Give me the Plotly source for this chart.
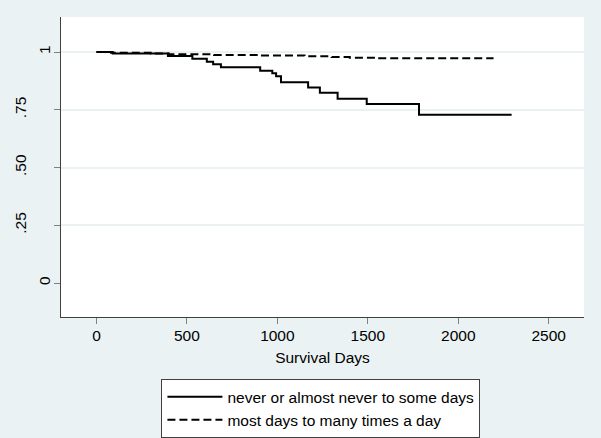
import plotly.graph_objects as go

# Kaplan-Meier step data
never_days = [0, 90, 395, 530, 610, 645, 688, 905, 972, 993, 1020, 1170, 1235, 1333, 1494, 1783, 2295]
never_surv = [1.0, 0.994, 0.983, 0.971, 0.958, 0.947, 0.934, 0.919, 0.908, 0.895, 0.870, 0.847, 0.824, 0.798, 0.775, 0.729, 0.729]

most_days = [0, 80, 300, 400, 650, 900, 1150, 1300, 1400, 1550, 2195]
most_surv = [1.0, 0.997, 0.994, 0.991, 0.988, 0.985, 0.982, 0.979, 0.976, 0.973, 0.973]

series_names = ["never or almost never to some days", "most days to many times a day"]

x_ticks = [0, 500, 1000, 1500, 2000, 2500]
y_ticks_inner = [0.25, 0.5, 0.75, 1]
y_text_inner = [".25", ".50", ".75", ""]
y_ticks_outer = [0, 1]
y_text_outer = ["0", "1"]

FONT = "Arial, Liberation Sans, sans-serif"
BG = "#EAF2F3"
FS = 15.5

fig = go.Figure()
fig.add_trace(go.Scatter(x=never_days, y=never_surv, mode="lines", line_shape="hv",
                         line=dict(color="#000000", width=2), name=series_names[0]))
fig.add_trace(go.Scatter(x=most_days, y=most_surv, mode="lines", line_shape="hv",
                         line=dict(color="#000000", width=2, dash="8px,4px"), name=series_names[1]))
# invisible trace to carry the second y axis
fig.add_trace(go.Scatter(x=[None], y=[None], yaxis="y2", showlegend=False, hoverinfo="skip"))

yrange = [-0.147, 1.152]
fig.update_layout(
    width=601, height=438,
    margin=dict(l=61, r=17, t=17, b=121, autoexpand=False),
    paper_bgcolor=BG, plot_bgcolor="#FFFFFF",
    font=dict(family=FONT, size=FS, color="#000000"),
    xaxis=dict(range=[-196, 2695], tickvals=x_ticks, showgrid=False, zeroline=False,
               showline=True, linecolor="#404040", linewidth=1, automargin=False,
               ticks="outside", ticklen=6, tickcolor="#808080",
               ticklabelstandoff=-2, tickfont=dict(size=FS),
               title=dict(text="Survival Days", font=dict(size=FS), standoff=9)),
    yaxis=dict(range=yrange, tickvals=y_ticks_inner, ticktext=y_text_inner, tickangle=-90,
               showgrid=True, gridcolor="#EBF1F2", gridwidth=1.5, zeroline=False,
               showline=True, linecolor="#404040", linewidth=1, automargin=False,
               ticks="outside", ticklen=6, tickcolor="#808080",
               ticklabelstandoff=22, tickfont=dict(size=FS)),
    yaxis2=dict(range=yrange, overlaying="y", side="left", anchor="x",
                tickvals=y_ticks_outer, ticktext=y_text_outer, tickangle=-90,
                showgrid=False, zeroline=False, showline=False, automargin=False,
                ticks="outside", ticklen=6, tickcolor="#808080",
                ticklabelstandoff=-2, tickfont=dict(size=FS)),
    legend=dict(x=0.497, xanchor="center", y=-0.207, yanchor="top",
                bgcolor="#FFFFFF", bordercolor="#404040", borderwidth=1,
                font=dict(size=FS), itemwidth=55, tracegroupgap=0),
    showlegend=True,
)

fig.write_html("out.html", config={"displayModeBar": False},
               post_script="document.body.style.margin='0';document.body.style.background='#EAF2F3';")
